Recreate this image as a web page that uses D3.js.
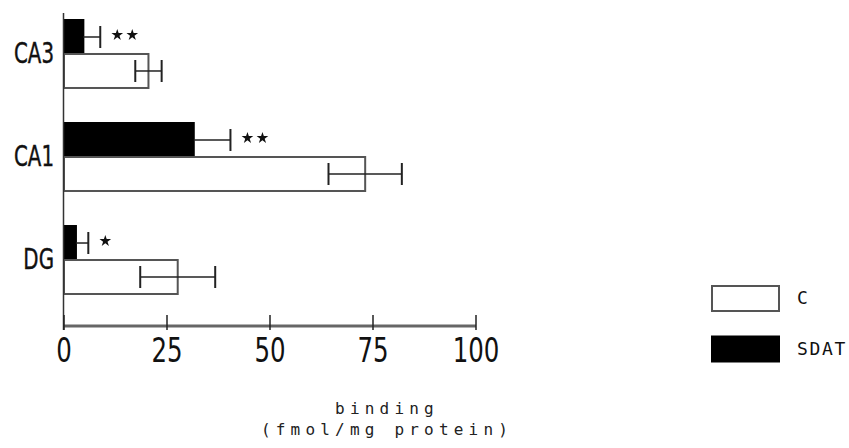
<!DOCTYPE html>
<html>
<head>
<meta charset="utf-8">
<script src="https://cdn.jsdelivr.net/npm/d3@7"></script>
<style>
  body { margin: 0; background: #fff; }
  svg { display: block; }
</style>
</head>
<body>
<div id="chart"></div>
<script>
// regions and the two groups
const categories = ['CA3', 'CA1', 'DG'];
const groups = ['SDAT', 'C'];

// binding (fmol/mg protein)
const cMean = [20.5, 73.1, 27.6];
const cErr = [3.2, 8.9, 9.1];
const sdatMean = [4.7, 31.5, 2.9];
const sdatErr = [4.1, 8.9, 3.0];
const signif = ['**', '**', '*'];

const xTicks = [0, 25, 50, 75, 100];
const legendItems = ['C', 'SDAT'];

const width = 849, height = 448;
const narrow = "'Liberation Sans Narrow', 'DejaVu Sans Condensed', sans-serif";
const mono = "'DejaVu Sans Mono', 'Liberation Mono', monospace";

const svg = d3.select('#chart').append('svg')
    .attr('width', width)
    .attr('height', height);

const x = d3.scaleLinear().domain([0, 100]).range([64, 476]);
const y = d3.scaleBand().domain(categories).range([20, 294]).paddingInner(0.34).paddingOuter(0);
const ySub = d3.scaleBand().domain(groups).range([0, y.bandwidth()]);

const rows = categories.map((c, i) => ({
    cat: c,
    bars: [
        {g: 'SDAT', mean: sdatMean[i], err: sdatErr[i]},
        {g: 'C', mean: cMean[i], err: cErr[i]}
    ],
    sig: signif[i]
}));

// bars
const g = svg.selectAll('.grp').data(rows).enter()
    .append('g')
    .attr('transform', d => `translate(0,${y(d.cat)})`);

g.selectAll('rect').data(d => d.bars).enter()
    .append('rect')
    .attr('x', x(0))
    .attr('y', d => ySub(d.g))
    .attr('width', d => x(d.mean) - x(0))
    .attr('height', ySub.bandwidth())
    .attr('fill', d => d.g == 'SDAT' ? '#000' : '#fff')
    .attr('stroke', d => d.g == 'SDAT' ? '#000' : '#555')
    .attr('stroke-width', 2);

// error bars (SDAT: upper side only, C: both sides)
const capH = 22;
g.selectAll('.err').data(d => d.bars).enter()
    .append('g')
    .each(function(d){
        let e = d3.select(this);
        let cy = ySub(d.g) + ySub.bandwidth() / 2;
        let lo = d.g == 'SDAT' ? d.mean : d.mean - d.err;
        let hi = d.mean + d.err;
        e.append('line')
            .attr('x1', x(lo)).attr('x2', x(hi))
            .attr('y1', cy).attr('y2', cy)
            .attr('stroke', '#222').attr('stroke-width', 1.5);
        e.append('line')
            .attr('x1', x(hi)).attr('x2', x(hi))
            .attr('y1', cy - capH / 2).attr('y2', cy + capH / 2)
            .attr('stroke', '#222').attr('stroke-width', 2);
        if(d.g == 'C'){
            e.append('line')
                .attr('x1', x(lo)).attr('x2', x(lo))
                .attr('y1', cy - capH / 2).attr('y2', cy + capH / 2)
                .attr('stroke', '#222').attr('stroke-width', 2);
        }
    });

// significance stars next to the SDAT error bar
g.each(function(d){
    let b = d.bars[0];
    let cy = ySub('SDAT') + ySub.bandwidth() / 2 - 2;
    d.sig.split('').forEach((s, k) => {
        d3.select(this).append('path')
            .attr('d', d3.symbol().type(d3.symbolStar).size(42)())
            .attr('transform', `translate(${x(b.mean + b.err) + 17 + k * 15},${cy})`)
            .attr('fill', '#111');
    });
});

// category labels
svg.selectAll('.cat').data(categories).enter()
    .append('text')
    .attr('transform', d => `translate(54,${y(d) + ySub.bandwidth() + 9}) scale(0.76,1)`)
    .attr('text-anchor', 'end')
    .style('font-family', narrow)
    .style('font-size', '29px')
    .attr('fill', '#111')
    .attr('stroke', '#111')
    .attr('stroke-width', 0.4)
    .text(d => d);

// axes
const axisY = 326;
svg.append('line')
    .attr('x1', 63.5).attr('x2', 63.5)
    .attr('y1', 13).attr('y2', axisY + 4)
    .attr('stroke', '#333').attr('stroke-width', 1.5);

svg.append('line')
    .attr('x1', x(0)).attr('x2', x(100))
    .attr('y1', axisY).attr('y2', axisY)
    .attr('stroke', '#666').attr('stroke-width', 3);

svg.selectAll('.tick').data(xTicks).enter()
    .append('line')
    .attr('x1', d => x(d)).attr('x2', d => x(d))
    .attr('y1', axisY - 11).attr('y2', axisY + 4)
    .attr('stroke', '#222').attr('stroke-width', 1.5);

svg.selectAll('.tickLabel').data(xTicks).enter()
    .append('text')
    .attr('transform', d => `translate(${x(d)},${362}) scale(0.8,1)`)
    .attr('text-anchor', 'middle')
    .style('font-family', narrow)
    .style('font-size', '34px')
    .attr('fill', '#111')
    .text(d => d);

// axis title
const title = svg.append('text')
    .attr('text-anchor', 'middle')
    .style('font-family', mono)
    .style('font-size', '16px')
    .style('letter-spacing', '5.2px')
    .attr('fill', '#222');
title.append('tspan').attr('x', 387).attr('y', 414).text('binding');
title.append('tspan').attr('x', 387).attr('y', 435).text('(fmol/mg protein)');

// legend
const leg = svg.selectAll('.leg').data(legendItems).enter()
    .append('g')
    .attr('transform', (d, i) => `translate(712,${286 + i * 50.5})`);

leg.append('rect')
    .attr('width', 67)
    .attr('height', 25)
    .attr('fill', d => d == 'SDAT' ? '#000' : '#fff')
    .attr('stroke', d => d == 'SDAT' ? '#000' : '#555')
    .attr('stroke-width', 2);

leg.append('text')
    .attr('x', 85)
    .attr('y', 18)
    .style('font-family', mono)
    .style('font-size', '18px')
    .style('letter-spacing', '1.7px')
    .attr('fill', '#111')
    .text(d => d);
</script>
</body>
</html>
